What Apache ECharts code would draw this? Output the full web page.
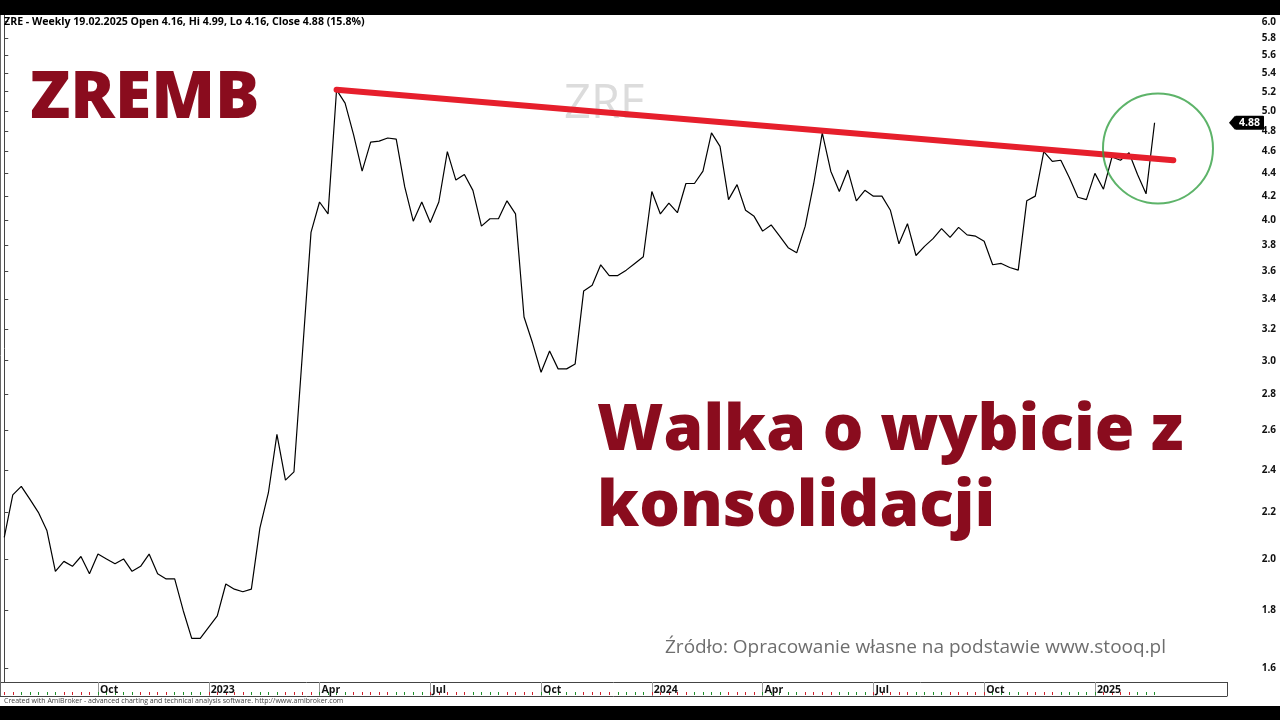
<!DOCTYPE html>
<html><head><meta charset="utf-8">
<script src="https://cdn.jsdelivr.net/npm/echarts@6/dist/echarts.min.js"></script>
<style>html,body{margin:0;padding:0;background:#fff}#c{width:1280px;height:720px}</style>
</head><body><div id="c"></div>
<script>
// ---- data ----
const START_DATE = '2022-07-18';   // first weekly bar
const TOTAL_WEEKS = 144;           // 136 bars + empty space on the right
const closes = [
  2.09, 2.28, 2.32, 2.26, 2.20, 2.12, 1.95, 1.99, 1.97, 2.01,
  1.94, 2.02, 2.00, 1.98, 2.00, 1.95, 1.97, 2.02, 1.94, 1.92,
  1.92, 1.80, 1.70, 1.70, 1.74, 1.78, 1.90, 1.88, 1.87, 1.88,
  2.13, 2.29, 2.58, 2.35, 2.39, 3.05, 3.90, 4.15, 4.05, 5.22,
  5.08, 4.76, 4.42, 4.69, 4.70, 4.73, 4.72, 4.28, 3.99, 4.15,
  3.98, 4.15, 4.60, 4.34, 4.39, 4.25, 3.95, 4.01, 4.01, 4.16,
  4.05, 3.28, 3.11, 2.93, 3.06, 2.95, 2.95, 2.98, 3.46, 3.50,
  3.65, 3.57, 3.57, 3.61, 3.66, 3.71, 4.24, 4.05, 4.14, 4.06,
  4.31, 4.31, 4.42, 4.78, 4.65, 4.17, 4.30, 4.08, 4.03, 3.91,
  3.96, 3.87, 3.78, 3.74, 3.95, 4.31, 4.78, 4.42, 4.24, 4.43,
  4.16, 4.25, 4.20, 4.20, 4.08, 3.81, 3.97, 3.72, 3.79, 3.85,
  3.93, 3.86, 3.94, 3.88, 3.87, 3.83, 3.65, 3.66, 3.63, 3.61,
  4.16, 4.20, 4.60, 4.51, 4.52, 4.36, 4.19, 4.17, 4.40, 4.26,
  4.55, 4.52, 4.59, 4.39, 4.22, 4.88
];
const trendPoints = [[39, 5.22], [137.2, 4.52]];
const breakoutCircle = [[135.4, 4.63]];
const quarterLabels = {
  '2022-10-03': 'Oct', '2023-01-02': '2023', '2023-04-03': 'Apr', '2023-07-03': 'Jul',
  '2023-10-02': 'Oct', '2024-01-01': '2024', '2024-04-01': 'Apr', '2024-07-01': 'Jul',
  '2024-09-30': 'Oct', '2024-12-30': '2025'
};
const yTickValues = [1.6, 1.8, 2.0, 2.2, 2.4, 2.6, 2.8, 3.0, 3.2, 3.4, 3.6, 3.8, 4.0, 4.2, 4.4, 4.6, 4.8, 5.0, 5.2, 5.4, 5.6, 5.8, 6.0];
const lastClose = 4.88;
const Y_MIN = 1.555, Y_MAX = 6.083;
const headerText = 'ZRE - Weekly 19.02.2025 Open 4.16, Hi 4.99, Lo 4.16, Close 4.88 (15.8%)';

// ---- build ----
const weeks = [];
const t0 = Date.parse(START_DATE + 'T00:00:00Z');
for (let i = 0; i < TOTAL_WEEKS; i++) weeks.push(new Date(t0 + i * 7 * 86400000).toISOString().slice(0, 10));
const monthOf = s => parseInt(s.slice(5, 7), 10);
const FONT = '"Open Sans", Lato, sans-serif';
const isQuarter = (i, v) => !!quarterLabels[v];

const tickAxis = (parity, color) => ({
  type: 'category', data: weeks, gridIndex: 0, position: 'bottom', offset: 10,
  axisLine: { show: false }, axisLabel: { show: false }, splitLine: { show: false },
  axisTick: { show: true, alignWithLabel: true, length: 3,
    interval: (i, v) => i < closes.length && monthOf(v) % 2 === parity,
    lineStyle: { color: color, width: 1 } }
});

const chart = echarts.init(document.getElementById('c'), null, { renderer: 'canvas' });
chart.setOption({
  animation: false,
  backgroundColor: '#fff',
  grid: { left: 0, right: 53, top: 15, bottom: 38, containLabel: false },
  xAxis: [
    { type: 'category', data: weeks, boundaryGap: true,
      axisLine: { show: true, lineStyle: { color: '#444', width: 1 } },
      axisTick: { show: true, alignWithLabel: true, interval: isQuarter, length: 14, lineStyle: { color: '#999' } },
      axisLabel: { show: true, interval: isQuarter, formatter: v => quarterLabels[v] || '', align: 'left',
        margin: 3, padding: [0, 0, 0, 2], fontFamily: FONT, fontWeight: 'bold', fontSize: 10.5, color: '#111' },
      splitLine: { show: false } },
    tickAxis(0, '#1f8f2a'),
    tickAxis(1, '#d0202a'),
    { type: 'category', data: weeks, gridIndex: 0, position: 'bottom', offset: 14,
      axisLine: { show: true, lineStyle: { color: '#444' } }, axisTick: { show: false }, axisLabel: { show: false } },
    // continuous twin of the week axis (same bands) for annotations between bars
    { type: 'value', gridIndex: 0, min: -0.5, max: TOTAL_WEEKS - 0.5, show: false }
  ],
  yAxis: {
    type: 'log', logBase: 10, position: 'right', min: Y_MIN, max: Y_MAX,
    axisLine: { show: true, lineStyle: { color: '#444' } },
    axisTick: { show: true, customValues: yTickValues, length: 4, lineStyle: { color: '#444' } },
    axisLabel: { show: true, customValues: yTickValues, formatter: v => Number(v).toFixed(1), align: 'right',
      margin: 49, fontFamily: FONT, fontWeight: 'bold', fontSize: 10, color: '#111' },
    splitLine: { show: false }
  },
  series: [
    { type: 'line', name: 'ZRE', data: closes, symbol: 'none', xAxisIndex: 0,
      lineStyle: { color: '#000', width: 1.2 }, z: 4,
      markLine: { silent: true, symbol: ['none', 'none'], animation: false,
        data: [{ yAxis: lastClose }], lineStyle: { color: 'rgba(0,0,0,0)', width: 0 },
        label: { show: true, position: 'end', distance: 8, formatter: lastClose.toFixed(2),
          backgroundColor: '#000', color: '#fff', fontFamily: FONT, fontWeight: 'bold', fontSize: 10.5,
          padding: [2, 4, 1, 4], borderRadius: 1 } },
      markPoint: { silent: true, animation: false,
        data: [{ yAxis: lastClose, x: 1232 }], symbol: 'triangle', symbolSize: [14, 6], symbolRotate: 90,
        itemStyle: { color: '#000' }, label: { show: false } } },
    { type: 'line', name: 'trend', data: trendPoints, symbol: 'none', xAxisIndex: 4, z: 5,
      lineStyle: { color: '#e61f2c', width: 6, cap: 'round' } },
    { type: 'scatter', name: 'breakout', data: breakoutCircle, symbol: 'circle', symbolSize: 110, xAxisIndex: 4, z: 6,
      silent: true, itemStyle: { color: 'rgba(0,0,0,0)', borderColor: '#35a044', borderWidth: 2 } }
  ],
  graphic: [
    { type: 'rect', shape: { x: 0, y: 0, width: 1280, height: 15 }, style: { fill: '#000' }, z: 100 },
    { type: 'rect', shape: { x: 0, y: 706, width: 1280, height: 14 }, style: { fill: '#000' }, z: 100 },
    { type: 'line', shape: { x1: 0.5, y1: 15, x2: 0.5, y2: 696 }, style: { stroke: '#666', lineWidth: 1 }, z: 50 },
    { type: 'line', shape: { x1: 1227.5, y1: 682, x2: 1227.5, y2: 696 }, style: { stroke: '#444', lineWidth: 1 }, z: 50 },
    { type: 'text', x: 4, y: 22, style: { text: headerText, fill: '#000', font: 'bold 10.6px ' + FONT, verticalAlign: 'middle' }, z: 60 },
    { type: 'text', x: 564, y: 105, style: { text: 'ZRE', fill: '#dcdcdc', font: '47px ' + FONT, verticalAlign: 'middle' }, z: 1 },
    { type: 'text', x: 30, y: 99, style: { text: 'ZREMB', fill: '#8a0c1e', font: '800 66px ' + FONT, verticalAlign: 'middle' }, z: 60 },
    { type: 'text', x: 597, y: 432, style: { text: 'Walka o wybicie z', fill: '#8a0c1e', font: '800 64px ' + FONT, verticalAlign: 'middle' }, z: 60 },
    { type: 'text', x: 597, y: 508, style: { text: 'konsolidacji', fill: '#8a0c1e', font: '800 64px ' + FONT, verticalAlign: 'middle' }, z: 60 },
    { type: 'text', x: 665, y: 648, style: { text: 'Źródło: Opracowanie własne na podstawie www.stooq.pl', fill: '#6e6e6e', font: '19px ' + FONT, verticalAlign: 'middle' }, z: 60 },
    { type: 'text', x: 4, y: 701, style: { text: 'Created with AmiBroker - advanced charting and technical analysis software. http://www.amibroker.com', fill: '#444', font: '7px ' + FONT, verticalAlign: 'middle' }, z: 60 }
  ]
});
</script></body></html>
